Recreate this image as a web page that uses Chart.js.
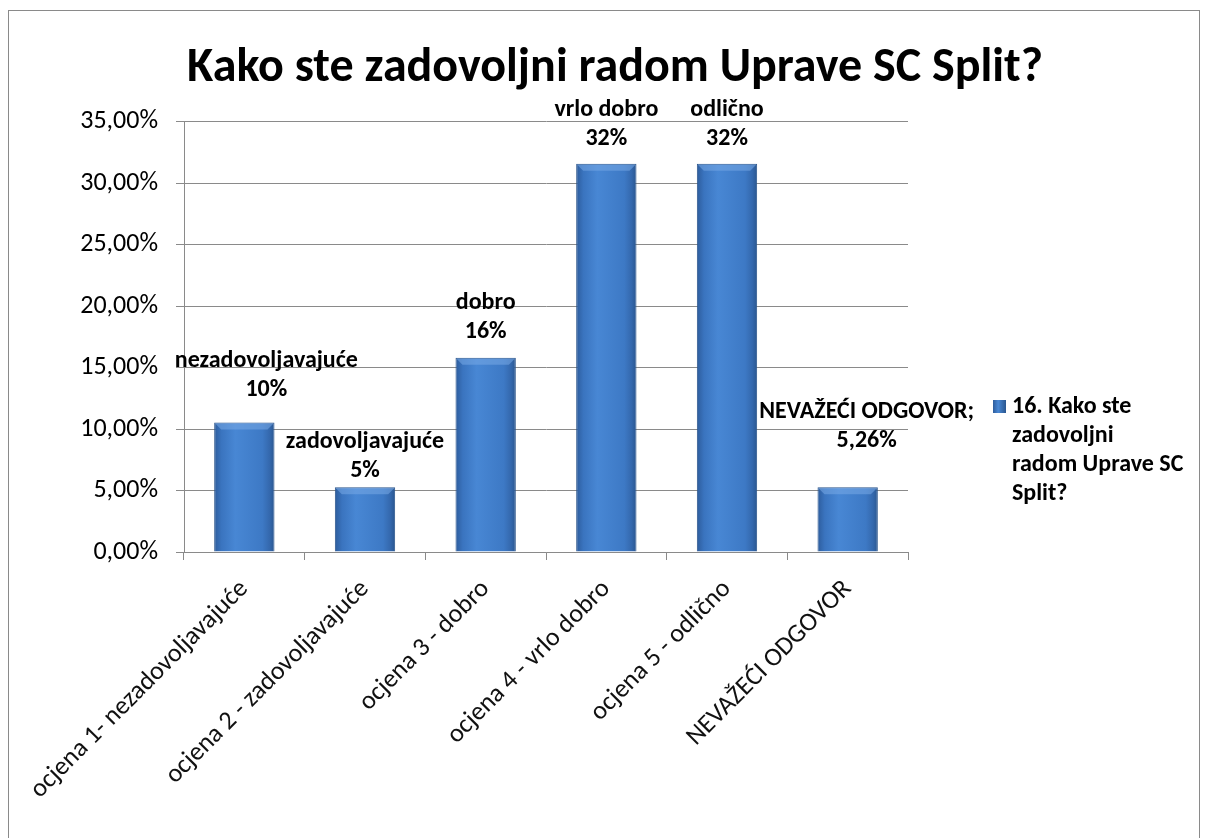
<!DOCTYPE html>
<html>
<head>
<meta charset="utf-8">
<script src="https://cdn.jsdelivr.net/npm/chart.js@4.4.1/dist/chart.umd.min.js"></script>
<style>
  html, body { margin: 0; padding: 0; background: #fff; overflow: hidden; }
  #frame { position: absolute; left: 8px; top: 10px; width: 1192px; height: 900px; border: 1px solid #8a8a8a; box-sizing: border-box; }
  #wrap { position: absolute; left: 0; top: 0; width: 1210px; height: 838px; }
</style>
</head>
<body>
<div id="frame"></div>
<div id="wrap"><canvas id="chart" width="1210" height="838"></canvas></div>
<script>
// survey: "Kako ste zadovoljni radom Uprave SC Split?" - share of answers per grade
const categories = [
  "ocjena 1- nezadovoljavajuće",
  "ocjena 2 - zadovoljavajuće",
  "ocjena 3 - dobro",
  "ocjena 4 - vrlo dobro",
  "ocjena 5 - odlično",
  "NEVAŽEĆI ODGOVOR"
];
const shares = [10.53, 5.26, 15.79, 31.58, 31.58, 5.26];
const labelNames = ["nezadovoljavajuće", "zadovoljavajuće", "dobro", "vrlo dobro", "odlično", "NEVAŽEĆI ODGOVOR;"];
const labelValues = ["10%", "5%", "16%", "32%", "32%", "5,26%"];
const seriesName = "16. Kako ste zadovoljni radom Uprave SC Split?";
const legendLines = ["16. Kako ste", "zadovoljni", "radom Uprave SC", "Split?"];

const FONT = "Carlito, Lato, 'Open Sans', sans-serif";

// labels were nudged by hand in the original, so each one has its own offset
const labelNudge = [
  { dx: 22, gap: 27 },
  { dx: 0, gap: 10 },
  { dx: 0, gap: 20 },
  { dx: 0, gap: 19 },
  { dx: 0, gap: 19 },
  { dx: 19, gap: 40 }
];

// bevelled blue bar, darker at the edges
function barFill(ctx) {
  const chart = ctx.chart;
  const x = chart.scales.x;
  if (!x || !chart.chartArea || ctx.dataIndex === undefined) return "#3f7cc8";
  const cx = x.getPixelForValue(ctx.dataIndex);
  const w = (chart.chartArea.right - chart.chartArea.left) / categories.length * 0.5;
  const g = chart.ctx.createLinearGradient(cx - w / 2, 0, cx + w / 2, 0);
  g.addColorStop(0, "#2d5c9c");
  g.addColorStop(0.12, "#3a74bf");
  g.addColorStop(0.35, "#4887d4");
  g.addColorStop(0.8, "#3d79c5");
  g.addColorStop(0.92, "#3468ad");
  g.addColorStop(1, "#2a568f");
  return g;
}

// lighter bevel strip along the top of each bar
const barBevel = {
  id: "barBevel",
  afterDatasetsDraw(chart) {
    const ctx = chart.ctx;
    ctx.save();
    chart.getDatasetMeta(0).data.forEach((bar) => {
      const l = bar.x - bar.width / 2, r = bar.x + bar.width / 2, t = bar.y, b = 7;
      ctx.fillStyle = "rgba(120, 170, 230, 0.55)";
      ctx.beginPath();
      ctx.moveTo(l + 1, t + 1);
      ctx.lineTo(r - 1, t + 1);
      ctx.lineTo(r - b, t + b);
      ctx.lineTo(l + b, t + b);
      ctx.closePath();
      ctx.fill();
    });
    ctx.restore();
  }
};

// two-line labels above each bar
const barLabels = {
  id: "barLabels",
  afterDatasetsDraw(chart) {
    const ctx = chart.ctx;
    const bars = chart.getDatasetMeta(0).data;
    ctx.save();
    ctx.font = "bold 24px " + FONT;
    ctx.fillStyle = "#000";
    ctx.textAlign = "center";
    ctx.textBaseline = "alphabetic";
    bars.forEach((bar, i) => {
      const n = labelNudge[i];
      const base = bar.y - n.gap;
      ctx.fillText(labelValues[i], bar.x + n.dx, base);
      ctx.fillText(labelNames[i], bar.x + n.dx, base - 29);
    });
    ctx.restore();
  }
};

// legend to the right, wrapped on several lines
const sideLegend = {
  id: "sideLegend",
  afterDraw(chart) {
    const ctx = chart.ctx;
    const left = 993, top = 400;
    ctx.save();
    const g = ctx.createLinearGradient(left, 0, left + 13, 0);
    g.addColorStop(0, "#2d5c9c");
    g.addColorStop(0.4, "#4887d4");
    g.addColorStop(1, "#2a568f");
    ctx.fillStyle = g;
    ctx.fillRect(left, top, 13, 13);
    ctx.font = "bold 24px " + FONT;
    ctx.fillStyle = "#000";
    ctx.textBaseline = "alphabetic";
    legendLines.forEach((line, i) => ctx.fillText(line, left + 19, top + 13 + i * 29));
    ctx.restore();
  }
};

new Chart(document.getElementById("chart"), {
  type: "bar",
  data: {
    labels: categories,
    datasets: [{
      label: seriesName,
      data: shares,
      backgroundColor: barFill,
      borderColor: "#2b558c",
      borderWidth: 1,
      barPercentage: 0.5,
      categoryPercentage: 1.0
    }]
  },
  options: {
    responsive: false,
    animation: false,
    layout: { padding: { left: 20, right: 0, top: 0, bottom: 0 } },
    plugins: {
      legend: { display: false },
      tooltip: { enabled: false },
      title: {
        display: true,
        text: "Kako ste zadovoljni radom Uprave SC Split?",
        color: "#000",
        font: { family: FONT, size: 48, weight: "bold" },
        padding: { top: 40, bottom: 24 }
      }
    },
    scales: {
      x: {
        grid: { display: true, offset: true, drawOnChartArea: false, color: "#8a8a8a", tickLength: 8 },
        border: { color: "#8a8a8a" },
        ticks: {
          color: "#111",
          font: { family: FONT, size: 26 },
          minRotation: 45,
          maxRotation: 45,
          padding: 14
        },
        afterFit(scale) { scale.height = 286; }
      },
      y: {
        min: 0,
        max: 35,
        ticks: {
          stepSize: 5,
          color: "#000",
          font: { family: FONT, size: 26 },
          padding: 18,
          callback: (v) => v.toFixed(2).replace(".", ",") + "%"
        },
        grid: { color: "#8a8a8a", tickLength: 8 },
        border: { color: "#8a8a8a" },
        afterFit(scale) { scale.width = 164; }
      },
      // empty right-hand axis that only reserves room for the legend
      side: {
        position: "right",
        min: 0,
        max: 35,
        grid: { display: false },
        border: { display: false },
        ticks: { display: false },
        afterFit(scale) { scale.width = 302; }
      }
    }
  },
  plugins: [barBevel, barLabels, sideLegend]
});
</script>
</body>
</html>
